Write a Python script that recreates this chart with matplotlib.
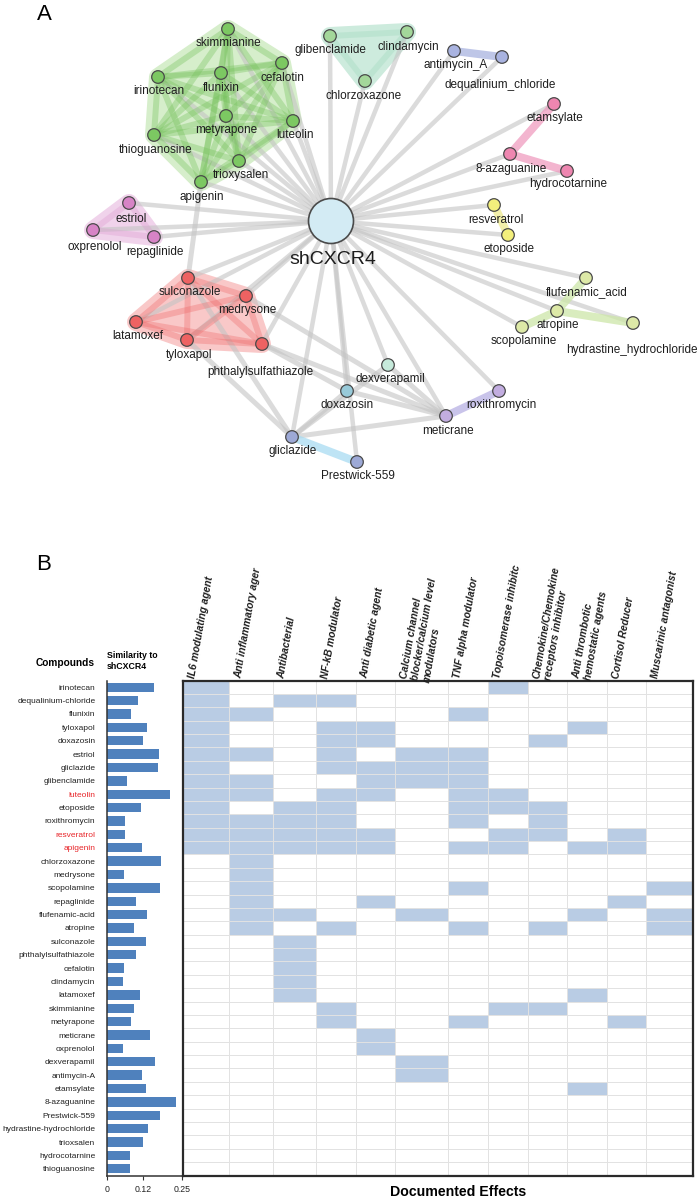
import numpy as np
import matplotlib
matplotlib.use("Agg")
import matplotlib.pyplot as plt
from matplotlib.colors import ListedColormap
from matplotlib.patches import Circle, Polygon

plt.rcParams["font.family"] = ["Liberation Sans", "DejaVu Sans"]

# ---------------- Panel A: network (layout in pixel units) ----------------
hub_name = "shCXCR4"
hub_xy = (331, 221)

node_names = ["skimmianine", "glibenclamide", "clindamycin", "cefalotin", "flunixin", "irinotecan",
              "chlorzoxazone", "antimycin_A", "dequalinium_chloride", "metyrapone", "luteolin",
              "thioguanosine", "trioxysalen", "apigenin", "estriol", "oxprenolol", "repaglinide",
              "etamsylate", "8-azaguanine", "hydrocotarnine", "resveratrol", "etoposide",
              "sulconazole", "medrysone", "latamoxef", "tyloxapol", "phthalylsulfathiazole",
              "flufenamic_acid", "atropine", "scopolamine", "hydrastine_hydrochloride",
              "dexverapamil", "doxazosin", "roxithromycin", "meticrane", "gliclazide", "Prestwick-559"]
node_x = [228, 330, 407, 282, 221, 158, 365, 454, 502, 226, 293, 154, 239, 201, 129, 93, 154,
          554, 510, 567, 494, 508, 188, 246, 136, 187, 262, 586, 557, 522, 633, 388, 347, 499,
          446, 292, 357]
node_y = [29, 36, 32, 63, 73, 77, 81, 51, 57, 116, 121, 135, 161, 182, 203, 230, 237, 104, 154,
          171, 205, 235, 278, 296, 322, 340, 344, 278, 311, 327, 323, 365, 391, 391, 416, 437, 462]
label_x = [228, 330, 408, 282, 221, 159, 364, 456, 500, 226, 295, 156, 241, 202, 131, 95, 155,
           555, 511, 568, 496, 509, 190, 247, 138, 189, 260, 587, 558, 524, 632, 390, 347, 501,
           448, 293, 358]
label_y = [43, 50, 47, 78, 88, 91, 96, 65, 85, 130, 135, 150, 175, 197, 219, 247, 252, 118, 169,
           184, 220, 249, 292, 310, 336, 355, 372, 292, 325, 341, 350, 379, 405, 405, 431, 451, 476]
node_group = ["green", "teal", "teal", "green", "green", "green", "teal", "blue", "blue", "green",
              "green", "green", "green", "green", "magenta", "magenta", "magenta", "pink", "pink",
              "pink", "yellow", "yellow", "red", "red", "red", "red", "red", "lime", "lime", "lime",
              "lime", "dexv", "doxa", "meti", "meti", "glic", "glic"]

group_node_color = {"green": "#7cc862", "teal": "#a3d79a", "blue": "#a9b3e0", "magenta": "#d783c6",
                    "pink": "#ee86b0", "yellow": "#f3ef7c", "red": "#ee6262", "lime": "#dde9a7",
                    "dexv": "#c6eadb", "doxa": "#98cad9", "meti": "#c2ade0", "glic": "#9da9d6"}
group_link_color = {"green": "#74c15a", "teal": "#9fd8bd", "blue": "#a9b3e0", "magenta": "#dc9ad0",
                    "pink": "#ef9cc0", "yellow": "#eeea8e", "red": "#ee6a6a", "lime": "#cde6a8",
                    "meti": "#b8b0e4", "glic": "#a9dcf2"}
group_hull_color = {"green": "#d6eecb", "teal": "#cdebdd", "magenta": "#f0d3eb", "red": "#f9c8c8"}

pair_links = [("antimycin_A", "dequalinium_chloride"), ("etamsylate", "8-azaguanine"),
              ("8-azaguanine", "hydrocotarnine"), ("resveratrol", "etoposide"),
              ("flufenamic_acid", "atropine"), ("atropine", "scopolamine"),
              ("atropine", "hydrastine_hydrochloride"), ("gliclazide", "Prestwick-559"),
              ("meticrane", "roxithromycin")]
cross_links = [("gliclazide", "sulconazole"), ("gliclazide", "tyloxapol"), ("gliclazide", "doxazosin"),
               ("gliclazide", "dexverapamil"), ("gliclazide", "meticrane"),
               ("meticrane", "phthalylsulfathiazole"), ("meticrane", "medrysone"),
               ("meticrane", "doxazosin"), ("meticrane", "dexverapamil"),
               ("doxazosin", "phthalylsulfathiazole"), ("sulconazole", "apigenin")]

# ---------------- Panel B: compounds and documented effects ----------------
compounds = ["irinotecan", "dequalinium-chloride", "flunixin", "tyloxapol", "doxazosin", "estriol",
             "gliclazide", "glibenclamide", "luteolin", "etoposide", "roxithromycin", "resveratrol",
             "apigenin", "chlorzoxazone", "medrysone", "scopolamine", "repaglinide", "flufenamic-acid",
             "atropine", "sulconazole", "phthalylsulfathiazole", "cefalotin", "clindamycin", "latamoxef",
             "skimmianine", "metyrapone", "meticrane", "oxprenolol", "dexverapamil", "antimycin-A",
             "etamsylate", "8-azaguanine", "Prestwick-559", "hydrastine-hydrochloride", "trioxsalen",
             "hydrocotarnine", "thioguanosine"]
similarity = [0.156, 0.102, 0.079, 0.132, 0.120, 0.172, 0.170, 0.066, 0.209, 0.112, 0.058, 0.059,
              0.117, 0.179, 0.056, 0.176, 0.096, 0.131, 0.088, 0.129, 0.097, 0.057, 0.052, 0.109,
              0.089, 0.078, 0.142, 0.052, 0.158, 0.116, 0.128, 0.229, 0.176, 0.137, 0.120, 0.077,
              0.076]
highlighted = ["luteolin", "resveratrol", "apigenin"]
effects = ["IL6 modulating agent", "Anti inflammatory ager", "Antibacterial", "NF-kB modulator",
           "Anti diabetic agent", "Calcium channel\nblocker/calcium level\nmodulators",
           "TNF alpha modulator", "Topoisomerase inhibitc", "Chemokine/Chemokine\nreceptors inhibitor",
           "Anti thrombotic\nhemostatic agents", "Cortisol Reducer", "Muscarinic antagonist"]
effect_rows = ["100000010000", "101100000000", "110000100000", "100110000100", "100110001000",
               "110101100000", "100111100000", "110011100000", "110110110000", "101100111000",
               "111100101000", "111110011010", "111110110110", "010000000000", "010000000000",
               "010000100001", "010010000010", "011001000101", "010100101001", "001000000000",
               "001000000000", "001000000000", "001000000000", "001000000100", "000100011000",
               "000100100010", "000010000000", "000010000000", "000001000000", "000001000000",
               "000000000100", "000000000000", "000000000000", "000000000000", "000000000000",
               "000000000000", "000000000000"]

# ---------------- layout ----------------
W, H = 700, 1202
PT = 0.72  # points per pixel at dpi 100
col_widths = [45.7, 43.7, 43.3, 39.7, 39.3, 53.3, 40.0, 39.4, 39.6, 39.4, 39.3, 47.3]
top_px, bot_px = 680.5, 1175.5

fig = plt.figure(figsize=(W / 100, H / 100), dpi=100)


def convex_hull(pts):
    pts = sorted(set(pts))
    if len(pts) < 3:
        return pts

    def cross(o, a, b):
        return (a[0] - o[0]) * (b[1] - o[1]) - (a[1] - o[1]) * (b[0] - o[0])
    lower, upper = [], []
    for p in pts:
        while len(lower) >= 2 and cross(lower[-2], lower[-1], p) <= 0:
            lower.pop()
        lower.append(p)
    for p in reversed(pts):
        while len(upper) >= 2 and cross(upper[-2], upper[-1], p) <= 0:
            upper.pop()
        upper.append(p)
    return lower[:-1] + upper[:-1]


# ---- panel A
axA = fig.add_axes([0, 1 - 520 / H, 1, 520 / H])
axA.set_xlim(0, W)
axA.set_ylim(520, 0)
axA.axis("off")
pos = {n: (x, y) for n, x, y in zip(node_names, node_x, node_y)}

# hulls of the larger clusters
for g, hc in group_hull_color.items():
    pts = [pos[n] for n, gg in zip(node_names, node_group) if gg == g]
    axA.add_patch(Polygon(convex_hull(pts), closed=True, facecolor=hc, edgecolor=hc,
                          lw=18 * PT, joinstyle="round", zorder=1))

# gray links: hub to every compound, plus cross links
for n in node_names:
    x, y = pos[n]
    axA.plot([hub_xy[0], x], [hub_xy[1], y], color="#c4c4c4", lw=4.5 * PT, alpha=0.6,
             solid_capstyle="butt", zorder=2)
for a, b in cross_links:
    axA.plot([pos[a][0], pos[b][0]], [pos[a][1], pos[b][1]], color="#c4c4c4", lw=5 * PT,
             alpha=0.6, solid_capstyle="butt", zorder=2)

# within-cluster links
for g in group_hull_color:
    members = [n for n, gg in zip(node_names, node_group) if gg == g]
    for i in range(len(members)):
        for j in range(i + 1, len(members)):
            a, b = pos[members[i]], pos[members[j]]
            axA.plot([a[0], b[0]], [a[1], b[1]], color=group_link_color[g], lw=6 * PT,
                     alpha=0.35, solid_capstyle="round", zorder=3)
for a, b in pair_links:
    g = node_group[node_names.index(a)]
    axA.plot([pos[a][0], pos[b][0]], [pos[a][1], pos[b][1]], color=group_link_color[g],
             lw=8 * PT, alpha=0.75, solid_capstyle="round", zorder=3)

# nodes and labels
for n, g, lx, ly in zip(node_names, node_group, label_x, label_y):
    axA.add_patch(Circle(pos[n], 6.3, facecolor=group_node_color[g], edgecolor="#4a4a4a",
                         lw=0.9, zorder=4))
    axA.text(lx, ly, n, ha="center", va="center", fontsize=8.5, color="#1e1e1e", zorder=5)
axA.add_patch(Circle(hub_xy, 22.5, facecolor="#d3ebf4", edgecolor="#4a4a4a", lw=1.2, zorder=4))
axA.text(hub_xy[0] + 2, hub_xy[1] + 38, hub_name, ha="center", va="center", fontsize=14,
         color="#1e1e1e", zorder=5)
fig.text(44 / W, 1 - 14 / H, "A", ha="center", va="center", fontsize=16)

# ---- panel B: similarity bars
n_rows = len(compounds)
rows = np.arange(n_rows)
axb = fig.add_axes([107.3 / W, 1 - bot_px / H, 75 / W, (bot_px - top_px) / H])
axb.barh(rows, similarity, height=0.7, color="#4f81bd")
axb.set_ylim(n_rows - 0.5, -0.5)
axb.set_xlim(0, 0.25)
for s in ["top", "right"]:
    axb.spines[s].set_visible(False)
for s in ["left", "bottom"]:
    axb.spines[s].set_color("#333333")
    axb.spines[s].set_linewidth(1.1)
axb.set_xticks([0, 0.12, 0.25])
axb.set_xticklabels(["0", "0.12", "0.25"], fontsize=6.3, color="#222222")
axb.tick_params(axis="x", length=3, width=0.8, pad=4, color="#333333")
axb.set_yticks(rows)
axb.set_yticklabels(compounds, fontsize=6.0, color="#222222")
axb.tick_params(axis="y", length=0, pad=8.6)
for lab in axb.get_yticklabels():
    if lab.get_text() in highlighted:
        lab.set_color("#e8262a")
fig.text(95 / W, 1 - 663 / H, "Compounds", ha="right", va="center", fontsize=7.3,
         fontweight="bold")
fig.text(107 / W, 1 - 661 / H, "Similarity to\nshCXCR4", ha="left", va="center", fontsize=6.3,
         fontweight="bold", linespacing=1.3)

# ---- panel B: documented effects grid
x_edges = np.concatenate([[0], np.cumsum(col_widths)])
M = np.array([[int(c) for c in r] for r in effect_rows])
axh = fig.add_axes([183.3 / W, 1 - bot_px / H, x_edges[-1] / W, (bot_px - top_px) / H])
axh.pcolormesh(x_edges, np.arange(n_rows + 1), M, cmap=ListedColormap(["white", "#b9cce4"]),
               vmin=0, vmax=1)
axh.vlines(x_edges[1:-1], 0, n_rows, color="#e2e2e2", lw=0.7)
axh.hlines(np.arange(1, n_rows), 0, x_edges[-1], color="#e2e2e2", lw=0.7)
axh.set_xlim(0, x_edges[-1])
axh.set_ylim(n_rows, 0)
axh.set_xticks([])
axh.set_yticks([])
for s in axh.spines.values():
    s.set_color("#2a2a2a")
    s.set_linewidth(1.6)
for j, eff in enumerate(effects):
    axh.text(x_edges[j] + 4, -0.25, eff, rotation=80, rotation_mode="anchor", ha="left",
             va="top", fontsize=7.4, fontweight="bold", style="italic",
             color="#1e1e1e", linespacing=1.2, clip_on=False)
fig.text(458 / W, 1 - 1192 / H, "Documented Effects", ha="center", va="center", fontsize=10.2,
         fontweight="bold")
fig.text(44 / W, 1 - 565 / H, "B", ha="center", va="center", fontsize=16)

fig.savefig("out.png", dpi=100)
